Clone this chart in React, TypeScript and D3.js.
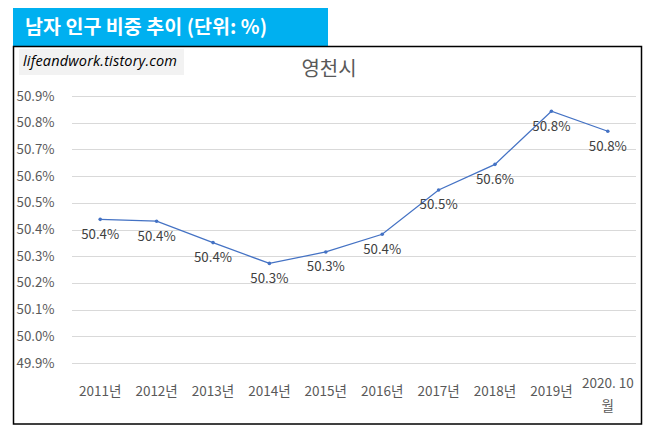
import React, { useEffect, useRef } from 'react';
import * as d3 from 'd3';

const W = 655;
const H = 434;

const plot = {
  left: 72,
  right: 636,
  top: 96,
  bottom: 363,
};

const categories = [
  '2011년',
  '2012년',
  '2013년',
  '2014년',
  '2015년',
  '2016년',
  '2017년',
  '2018년',
  '2019년',
  '2020. 10월',
];
const values = [50.438, 50.431, 50.351, 50.273, 50.316, 50.382, 50.548, 50.644, 50.843, 50.768];
const yTicks = [49.9, 50.0, 50.1, 50.2, 50.3, 50.4, 50.5, 50.6, 50.7, 50.8, 50.9];

const bannerTitle = '남자 인구 비중 추이 (단위: %)';
const chartTitle = '영천시';
const watermark = 'lifeandwork.tistory.com';

const font = '"Noto Sans CJK KR", "Noto Sans", sans-serif';
const pct = (v: number) => d3.format('.1f')(v) + '%';

// long category names wrap onto a second line
const wrapLabel = (s: string) => (s.length > 6 ? [s.slice(0, -1), s.slice(-1)] : [s]);

const App: React.FC = () => {
  const containerRef = useRef<HTMLDivElement>(null);

  useEffect(() => {
    if (containerRef && containerRef.current) {
      containerRef.current.innerHTML = '';
      drawChart(containerRef.current);
    }
  }, [containerRef]);

  return <div ref={containerRef} style={{ position: 'absolute', left: 0, top: 0 }}></div>;
};

const drawChart = (container: HTMLDivElement) => {
  const svg = d3
    .select(container)
    .append('svg')
    .attr('width', W)
    .attr('height', H)
    .style('display', 'block')
    .style('background', '#fff');

  // banner
  svg.append('rect').attr('x', 13).attr('y', 8).attr('width', 315).attr('height', 38).attr('fill', '#00B0F0');
  svg
    .append('text')
    .attr('x', 25)
    .attr('y', 34)
    .attr('fill', '#fff')
    .attr('textLength', 242)
    .style('font-family', font)
    .style('font-size', '19.5px')
    .style('font-weight', 'bold')
    .text(bannerTitle);

  // chart frame
  svg
    .append('rect')
    .attr('x', 13.5)
    .attr('y', 46.5)
    .attr('width', 628)
    .attr('height', 377.5)
    .attr('fill', '#fff')
    .attr('stroke', '#000')
    .attr('stroke-width', 1.5);

  // watermark
  svg.append('rect').attr('x', 19).attr('y', 49).attr('width', 165).attr('height', 26).attr('fill', '#F2F2F2');
  svg
    .append('text')
    .attr('x', 23)
    .attr('y', 66)
    .attr('fill', '#000')
    .attr('textLength', 154)
    .style('font-family', '"Open Sans", sans-serif')
    .style('font-size', '14.5px')
    .style('font-style', 'italic')
    .text(watermark);

  svg
    .append('text')
    .attr('x', 329)
    .attr('y', 76)
    .attr('text-anchor', 'middle')
    .attr('fill', '#595959')
    .style('font-family', font)
    .style('font-size', '20px')
    .text(chartTitle);

  const yScale = d3.scaleLinear().domain([49.9, 50.9]).range([plot.bottom, plot.top]);
  const xScale = d3.scalePoint().domain(categories).range([plot.left, plot.right]).padding(0.5);

  // gridlines + y labels
  const yAxisG = svg.append('g');
  yAxisG
    .selectAll('line')
    .data(yTicks)
    .enter()
    .append('line')
    .attr('x1', plot.left)
    .attr('x2', plot.right)
    .attr('y1', (d) => Math.round(yScale(d)) + 0.5)
    .attr('y2', (d) => Math.round(yScale(d)) + 0.5)
    .attr('stroke', '#D9D9D9')
    .attr('stroke-width', 1);
  yAxisG
    .selectAll('text')
    .data(yTicks)
    .enter()
    .append('text')
    .attr('x', 16.5)
    .attr('y', (d) => yScale(d) + 4.5)
    .attr('fill', '#595959')
    .style('font-family', font)
    .style('font-size', '13.3px')
    .text((d) => pct(d));

  // x labels
  const xAxisG = svg.append('g');
  categories.forEach((c) => {
    const lines = wrapLabel(c);
    const t = xAxisG
      .append('text')
      .attr('x', xScale(c)!)
      .attr('y', lines.length > 1 ? 388 : 396)
      .attr('text-anchor', 'middle')
      .attr('fill', '#595959')
      .style('font-family', font)
      .style('font-size', '13.5px');
    lines.forEach((l, i) => {
      t.append('tspan')
        .attr('x', xScale(c)!)
        .attr('dy', i === 0 ? 0 : 23)
        .text(l);
    });
  });

  const points = categories.map((c, i) => ({ name: c, value: values[i] }));

  const line = d3
    .line<{ name: string; value: number }>()
    .x((d) => xScale(d.name)!)
    .y((d) => yScale(d.value));

  svg
    .append('path')
    .datum(points)
    .attr('d', line)
    .attr('fill', 'none')
    .attr('stroke', '#4472C4')
    .attr('stroke-width', 1.25);

  svg
    .selectAll('circle.pt')
    .data(points)
    .enter()
    .append('circle')
    .attr('class', 'pt')
    .attr('cx', (d) => xScale(d.name)!)
    .attr('cy', (d) => yScale(d.value))
    .attr('r', 1.8)
    .attr('fill', '#4472C4');

  svg
    .selectAll('text.lbl')
    .data(points)
    .enter()
    .append('text')
    .attr('class', 'lbl')
    .attr('x', (d) => xScale(d.name)!)
    .attr('y', (d) => yScale(d.value) + 19.5)
    .attr('text-anchor', 'middle')
    .attr('fill', '#404040')
    .style('font-family', font)
    .style('font-size', '13.3px')
    .text((d) => pct(d.value));
};

export default App;
